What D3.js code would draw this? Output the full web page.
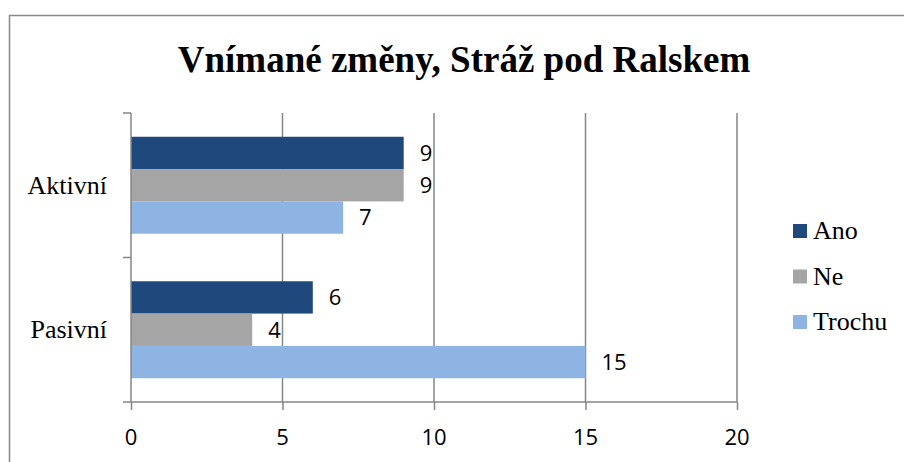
<!DOCTYPE html>
<html lang="cs">
<head>
<meta charset="UTF-8">
<title>Vnímané změny, Stráž pod Ralskem</title>
<style>
    body { margin: 0; background: #fff; }
    .grid line { stroke: #868686; stroke-width: 1.5px; }
    .axis path, .axis line { stroke: #868686; stroke-width: 1.5px; }
</style>
</head>
<body>
<script src="https://d3js.org/d3.v7.min.js"></script>
<script>
    const categories = ["Aktivní", "Pasivní"];
    const seriesNames = ["Ano", "Ne", "Trochu"];
    const ano = [9, 6];
    const ne = [9, 4];
    const trochu = [7, 15];
    const xTicks = [0, 5, 10, 15, 20];
    const colors = ["#1f497d", "#a5a5a5", "#8eb4e3"];

    const width = 904, height = 462;
    const plotLeft = 131, plotRight = 737, plotTop = 113, plotBottom = 402;
    const serif = '"Liberation Serif"';
    const sans = '"Open Sans"';

    const series = [ano, ne, trochu];
    const rows = categories.map((c, i) => ({
        cat: c,
        vals: seriesNames.map((s, j) => ({ name: s, value: series[j][i], color: colors[j] }))
    }));

    const svg = d3.select("body").append("svg")
        .attr("width", width)
        .attr("height", height);

    // outer chart frame (runs off the right and bottom edge)
    svg.append("rect")
        .attr("x", 9.5).attr("y", 15.5)
        .attr("width", 900).attr("height", 460)
        .attr("fill", "none")
        .attr("stroke", "#898989")
        .attr("stroke-width", 1.5);

    svg.append("text")
        .style("font-family", serif)
        .style("font-size", "37px")
        .style("font-weight", "bold")
        .attr("x", 464).attr("y", 72)
        .attr("text-anchor", "middle")
        .text("Vnímané změny, Stráž pod Ralskem");

    const x = d3.scaleLinear().domain([0, 20]).range([plotLeft, plotRight]);
    const y = d3.scaleBand().domain(categories).range([plotTop, plotBottom]).padding(0);
    const yInner = d3.scaleBand().domain(seriesNames).range([0, y.bandwidth()])
        .paddingInner(0).paddingOuter(0.735);

    // vertical gridlines
    svg.append("g").attr("class", "grid")
        .selectAll("line")
        .data(xTicks.filter(d => d > 0))
        .enter().append("line")
        .attr("x1", d => x(d)).attr("x2", d => x(d))
        .attr("y1", plotTop).attr("y2", plotBottom);

    // bars
    const group = svg.append("g").selectAll("g")
        .data(rows)
        .enter().append("g")
        .attr("transform", d => `translate(0,${y(d.cat)})`);

    group.selectAll("rect")
        .data(d => d.vals)
        .enter().append("rect")
        .attr("x", x(0))
        .attr("y", d => yInner(d.name))
        .attr("width", d => x(d.value) - x(0))
        .attr("height", yInner.bandwidth())
        .attr("fill", d => d.color);

    group.selectAll("text")
        .data(d => d.vals)
        .enter().append("text")
        .style("font-family", sans)
        .style("font-size", "22px")
        .attr("x", d => x(d.value) + 16)
        .attr("y", d => yInner(d.name) + yInner.bandwidth() / 2)
        .attr("dy", "0.36em")
        .text(d => d.value);

    // x axis
    const xAxis = svg.append("g").attr("class", "axis")
        .attr("transform", `translate(0,${plotBottom})`)
        .call(d3.axisBottom(x).tickValues(xTicks).tickSize(8).tickSizeOuter(0).tickFormat(""));
    xAxis.select(".domain").attr("d", `M${plotLeft - 8},0H${plotRight}`);

    svg.append("g").selectAll("text")
        .data(xTicks)
        .enter().append("text")
        .style("font-family", sans)
        .style("font-size", "22px")
        .attr("x", d => x(d))
        .attr("y", 445)
        .attr("text-anchor", "middle")
        .text(d => d);

    // y axis with category separators
    const yAxis = svg.append("g").attr("class", "axis");
    yAxis.append("line")
        .attr("x1", plotLeft).attr("x2", plotLeft)
        .attr("y1", plotTop).attr("y2", plotBottom);
    yAxis.selectAll(".sep")
        .data(categories.map(c => y(c)))
        .enter().append("line")
        .attr("x1", plotLeft - 8).attr("x2", plotLeft)
        .attr("y1", d => d).attr("y2", d => d);

    svg.append("g").selectAll("text")
        .data(categories)
        .enter().append("text")
        .style("font-family", serif)
        .style("font-size", "26px")
        .attr("x", 107)
        .attr("y", d => y(d) + y.bandwidth() / 2)
        .attr("dy", "0.33em")
        .attr("text-anchor", "end")
        .text(d => d);

    // legend
    const legend = svg.append("g")
        .selectAll("g")
        .data(seriesNames)
        .enter().append("g")
        .attr("transform", (d, i) => `translate(793,${231 + i * 45.5})`);
    legend.append("rect")
        .attr("x", 0).attr("y", -7)
        .attr("width", 14).attr("height", 14)
        .attr("fill", (d, i) => colors[i]);
    legend.append("text")
        .style("font-family", serif)
        .style("font-size", "26px")
        .attr("x", 20).attr("y", 8)
        .text(d => d);
</script>
</body>
</html>
